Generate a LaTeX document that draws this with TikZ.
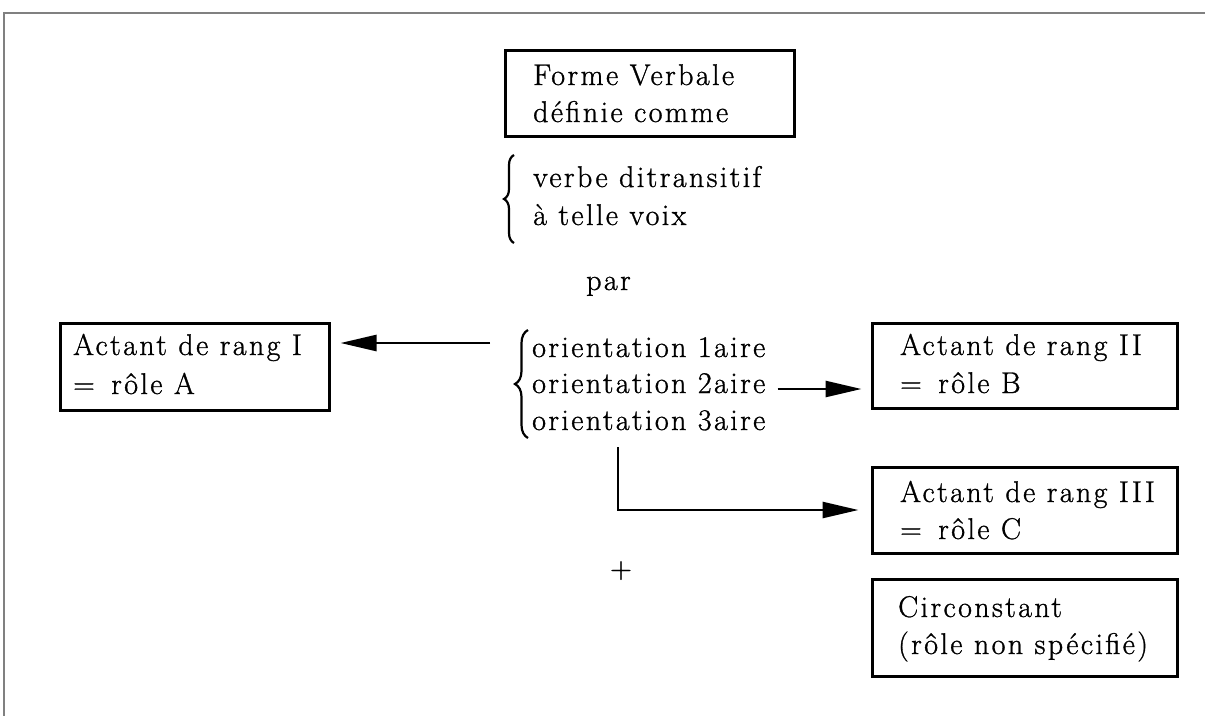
\documentclass[tikz,border=0pt]{standalone}
\usepackage{fontspec}
\setmainfont{Latin Modern Roman}[LetterSpace=8,FakeBold=1]
\usetikzlibrary{arrows.meta,decorations.pathreplacing,calc}
\begin{document}
\begin{tikzpicture}[x=1pt,y=-1pt,
  every node/.style={font=\fontsize{30}{38}\selectfont},
  box/.style={draw,line width=3pt,inner sep=0pt},
  txt/.style={anchor=base west,inner sep=0pt},
  arr/.style={line width=2.6pt,-{Triangle[length=36pt,width=16pt]}},
  brc/.style={decorate,line width=2.2pt}]
\useasboundingbox (0,0) rectangle (1205,716);
\draw[gray,line width=1.5pt] (1205,13) -- (4,13) -- (4,716);
% boxes
\node[box,minimum width=289pt,minimum height=86pt] (top) at (649.5,93) {};
\node[box,minimum width=269pt,minimum height=87pt] (b1) at (194.5,366.5) {};
\node[box,minimum width=305pt,minimum height=85pt] (b2) at (1024.5,365.5) {};
\node[box,minimum width=305pt,minimum height=86pt] (b3) at (1024.5,510) {};
\node[box,minimum width=305pt,minimum height=97pt] (b4) at (1024.5,627.5) {};
% box texts
\node[txt] (t1) at (533,85) {Forme Verbale};
\node[txt] (t2) at (533,122) {définie comme};
\node[txt] (a1) at (73,355) {Actant de rang I};
\node[txt] (a2) at (73,394) {= \,rôle A};
\node[txt] (c1) at (900,355) {Actant de rang II};
\node[txt] (c2) at (900,393) {= \,rôle B};
\node[txt] (d1) at (900,502) {Actant de rang III};
\node[txt] (d2) at (900,539) {= \,rôle C};
\node[txt] (e1) at (898,617) {Circonstant};
\node[txt] (e2) at (898,654) {(rôle non spécifié)};
% texts
\node[txt] (v1) at (533,187) {verbe ditransitif};
\node[txt] (v2) at (533,225) {à telle voix};
\node[txt] (par) at (586,290) {par};
\node[txt] (o1) at (532,357) {orientation 1aire};
\node[txt] (o2) at (532,393) {orientation 2aire};
\node[txt] (o3) at (532,430) {orientation 3aire};
\node[txt] (plus) at (610,578) {+};
% braces
\coordinate (br1a) at (514,243);
\coordinate (br1b) at (514,155);
\draw[brc,decoration={brace,amplitude=10pt}] (br1a) -- (br1b);
\coordinate (br2a) at (528,438);
\coordinate (br2b) at (528,330);
\draw[brc,decoration={brace,amplitude=13pt}] (br2a) -- (br2b);
% connectors
\coordinate (s1) at (490,343);
\draw[arr,shorten >=10pt] (s1) -- (s1 -| b1.east);
\coordinate (s2) at ($(o2.base east)+(12,-4)$);
\draw[arr,shorten >=9pt] (s2) -- (s2 -| b2.west);
\coordinate (s3) at (618,447);
\draw[arr,shorten >=12pt] (s3) |- (b3.west);
\end{tikzpicture}
\end{document}
